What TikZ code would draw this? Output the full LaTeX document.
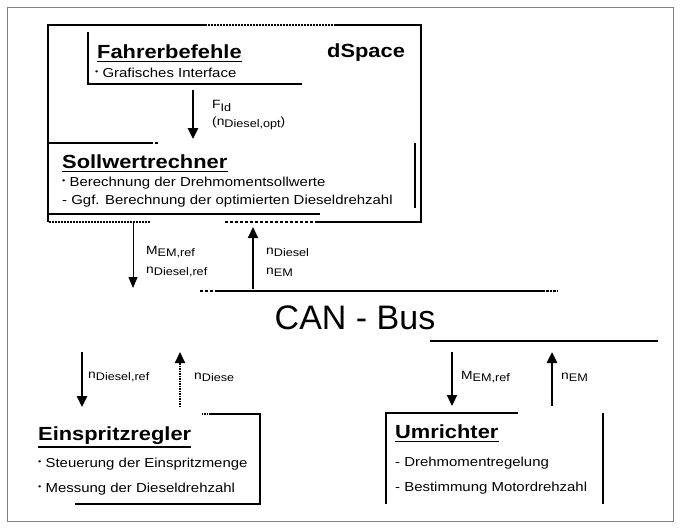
\documentclass[tikz,border=0pt]{standalone}
\usepackage{fontspec}
\setmainfont{Liberation Sans}
\newfontfamily\widefont[FakeStretch=1.15]{Liberation Sans}
\usetikzlibrary{arrows.meta}
\newcommand{\sbs}[1]{\raisebox{-0.35ex}{\fontsize{11}{12}\selectfont #1}}
\newcommand{\bul}{\raisebox{0.3ex}{\fontsize{8}{8}\selectfont\textbullet}}
\tikzset{
  title/.style={font=\widefont\fontsize{19}{22}\selectfont\bfseries, anchor=base west, inner sep=0pt},
  item/.style={font=\widefont\fontsize{13}{15}\selectfont, anchor=base west, inner sep=0pt},
  sig/.style={font=\widefont\fontsize{12}{14}\selectfont, anchor=west, inner sep=0pt},
  uline/.style={line width=1.6pt},
  wall/.style={line width=1.4pt},
  heavy/.style={line width=2.4pt},
  broken/.style={dash pattern=on 2pt off 1pt},
  thinarr/.style={line width=1pt, -{Triangle[width=9pt,length=11pt]}},
  thickarr/.style={line width=2.6pt, -{Triangle[width=10pt,length=11pt]}},
}
\begin{document}
\begin{tikzpicture}[x=1pt,y=-1pt]
	\useasboundingbox (0,0) rectangle (680,528);
	\draw[gray, line width=0.8pt] (7,7) rectangle (673,521);

	% dSpace
	\draw[heavy] (205,25) -- (48,25) -- (48,222);
	\draw[heavy, broken] (205,25) -- (335,25);
	\draw[heavy] (335,25) -- (421,25) -- (421,222) -- (318,222);
	\draw[heavy, densely dashed] (318,222) -- (225,222);
	\draw[heavy, broken] (150,222) -- (48,222);

	\node[title] (fahrer) at (97,58) {Fahrerbefehle};
	\node[title] (dspace) at (327,57) {dSpace};
	\node[item] (fahrer1) at (95,77) {\bul\ Grafisches Interface};
	\draw[wall] (88,32) -- (88,84) -- (302,84);

	\node[title] (soll) at (62,168) {Sollwertrechner};
	\node[item] (soll1) at (62,186) {\bul\ Berechnung der Drehmomentsollwerte};
	\node[item] (soll2) at (62,204) {- Ggf. Berechnung der optimierten Dieseldrehzahl};
	\draw[wall] (48,143) -- (150,143);
	\draw[wall, densely dashed] (150,143) -- (158,143);
	\draw[wall] (415,143) -- (415,208);
	\draw[heavy] (48,214) -- (320,214);

	% CAN
	\node[font=\fontsize{34}{40}\selectfont, inner sep=0pt] (can) at (355,318) {CAN - Bus};
	\draw[heavy, densely dashed] (200,291) -- (215,291);
	\draw[heavy] (215,291) -- (543,291);
	\draw[heavy, densely dotted] (543,291) -- (557,291);
	\draw[heavy] (430,341) -- (658,341);

	\node[title] (einspr) at (38,440) {Einspritzregler};
	\node[item] (einspr1) at (38,467) {\bul\ Steuerung der Einspritzmenge};
	\node[item] (einspr2) at (38,492) {\bul\ Messung der Dieseldrehzahl};
	\draw[wall, densely dotted] (202,414) -- (210,414);
	\draw[wall] (210,414) -- (260,414) -- (260,504) -- (75,504);

	\node[title] (umr) at (395,438) {Umrichter};
	\node[item] (umr1) at (395,466) {- Drehmomentregelung};
	\node[item] (umr2) at (395,491) {- Bestimmung Motordrehzahl};
	\draw[wall] (386,504) -- (386,413) -- (518,413);
	\draw[wall] (603,413) -- (603,504);

	\foreach \t in {fahrer,soll,einspr,umr}
		\draw[uline] ([yshift=-3pt]\t.south west) -- ([yshift=-3pt]\t.south east);

	% signals
	\coordinate (f1) at (193,90);    \coordinate (f2) at (193,139);
	\coordinate (d1) at (133,223);   \coordinate (d2) at (133,288);
	\coordinate (u1) at (253,289);   \coordinate (u2) at (253,227);
	\coordinate (ed1) at (82,352);   \coordinate (ed2) at (82,407);
	\coordinate (eu1) at (180,407);  \coordinate (eu2) at (180,352);
	\coordinate (ud1) at (452,352);  \coordinate (ud2) at (452,406);
	\coordinate (uu1) at (552,406);  \coordinate (uu2) at (552,352);

	\draw[thickarr] (f1) -- (f2);
	\draw[thinarr] (d1) -- (d2);
	\draw[thickarr, line width=2.2pt] (u1) -- (u2);
	\draw[thickarr] (ed1) -- (ed2);
	\draw[thickarr, line width=2.2pt, dash pattern=on 1.5pt off 1pt] (eu1) -- (eu2);
	\draw[thickarr, line width=2.2pt] (ud1) -- (ud2);
	\draw[thickarr] (uu1) -- (uu2);

	\node[sig] (fid) at (212,106) {F\sbs{Id}};
	\node[sig] (fopt) at (212,123) {(n\sbs{Diesel,opt})};
	\node[sig] (mref) at (146,252) {M\sbs{EM,ref}};
	\node[sig] (nref) at (146,272) {n\sbs{Diesel,ref}};
	\node[sig] (ndies) at (266,252) {n\sbs{Diesel}};
	\node[sig] (nem) at (266,272) {n\sbs{EM}};
	\node[sig] (nref2) at (88,377) {n\sbs{Diesel,ref}};
	\node[sig] (ndies2) at (194,377) {n\sbs{Diese}};
	\node[sig] (mref2) at (461,377) {M\sbs{EM,ref}};
	\node[sig] (nem2) at (561,377) {n\sbs{EM}};
\end{tikzpicture}
\end{document}
